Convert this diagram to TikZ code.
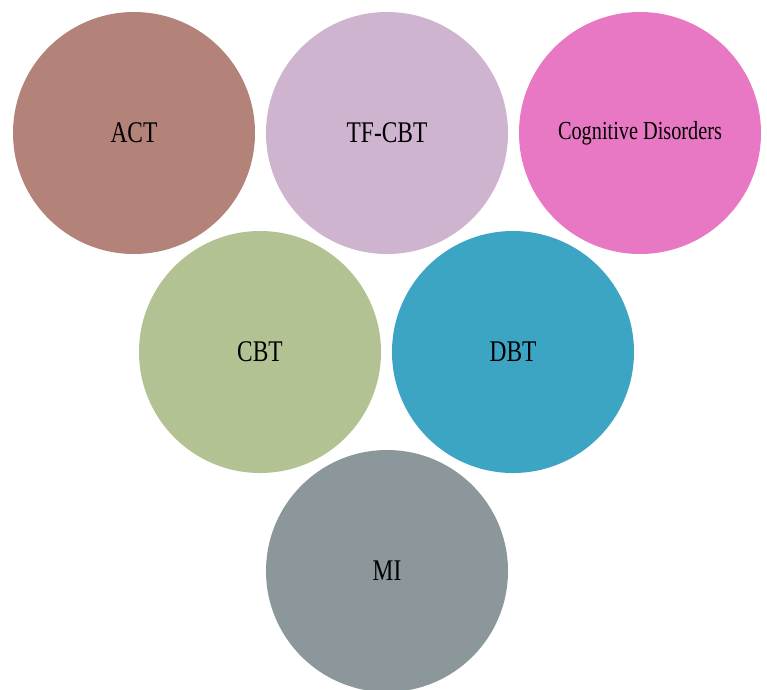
\documentclass[tikz,border=0pt]{standalone}
\usepackage{fontspec}
\setmainfont{Liberation Serif}[FakeStretch=0.78]
\usepackage{tikz}
\usetikzlibrary{positioning}
\definecolor{ActRose}{RGB}{179,131,121}
\definecolor{TfLilac}{RGB}{207,180,208}
\definecolor{CogPink}{RGB}{232,120,195}
\definecolor{CbtSage}{RGB}{179,194,146}
\definecolor{DbtTeal}{RGB}{61,165,196}
\definecolor{MiGrey}{RGB}{139,151,154}
\tikzset{bubble/.style={circle,minimum size=242pt,inner sep=0pt,text=black,font=\fontsize{30}{34}\selectfont}}

\begin{document}
\begin{tikzpicture}[x=1pt,y=-1pt]
\useasboundingbox (0,0) rectangle (767,689);
\node[bubble,fill=ActRose] (act) at (134,133) {ACT};
\node[bubble,fill=TfLilac] (tfcbt) at (387,133) {TF-CBT};
\node[bubble,fill=CogPink,font=\fontsize{26}{30}\selectfont] (cog) at (640,133) {Cognitive Disorders};
\node[bubble,fill=CbtSage] (cbt) at (260,352) {CBT};
\node[bubble,fill=DbtTeal] (dbt) at (513,352) {DBT};
\node[bubble,fill=MiGrey] (mi) at (387,571) {MI};
\end{tikzpicture}
\end{document}
